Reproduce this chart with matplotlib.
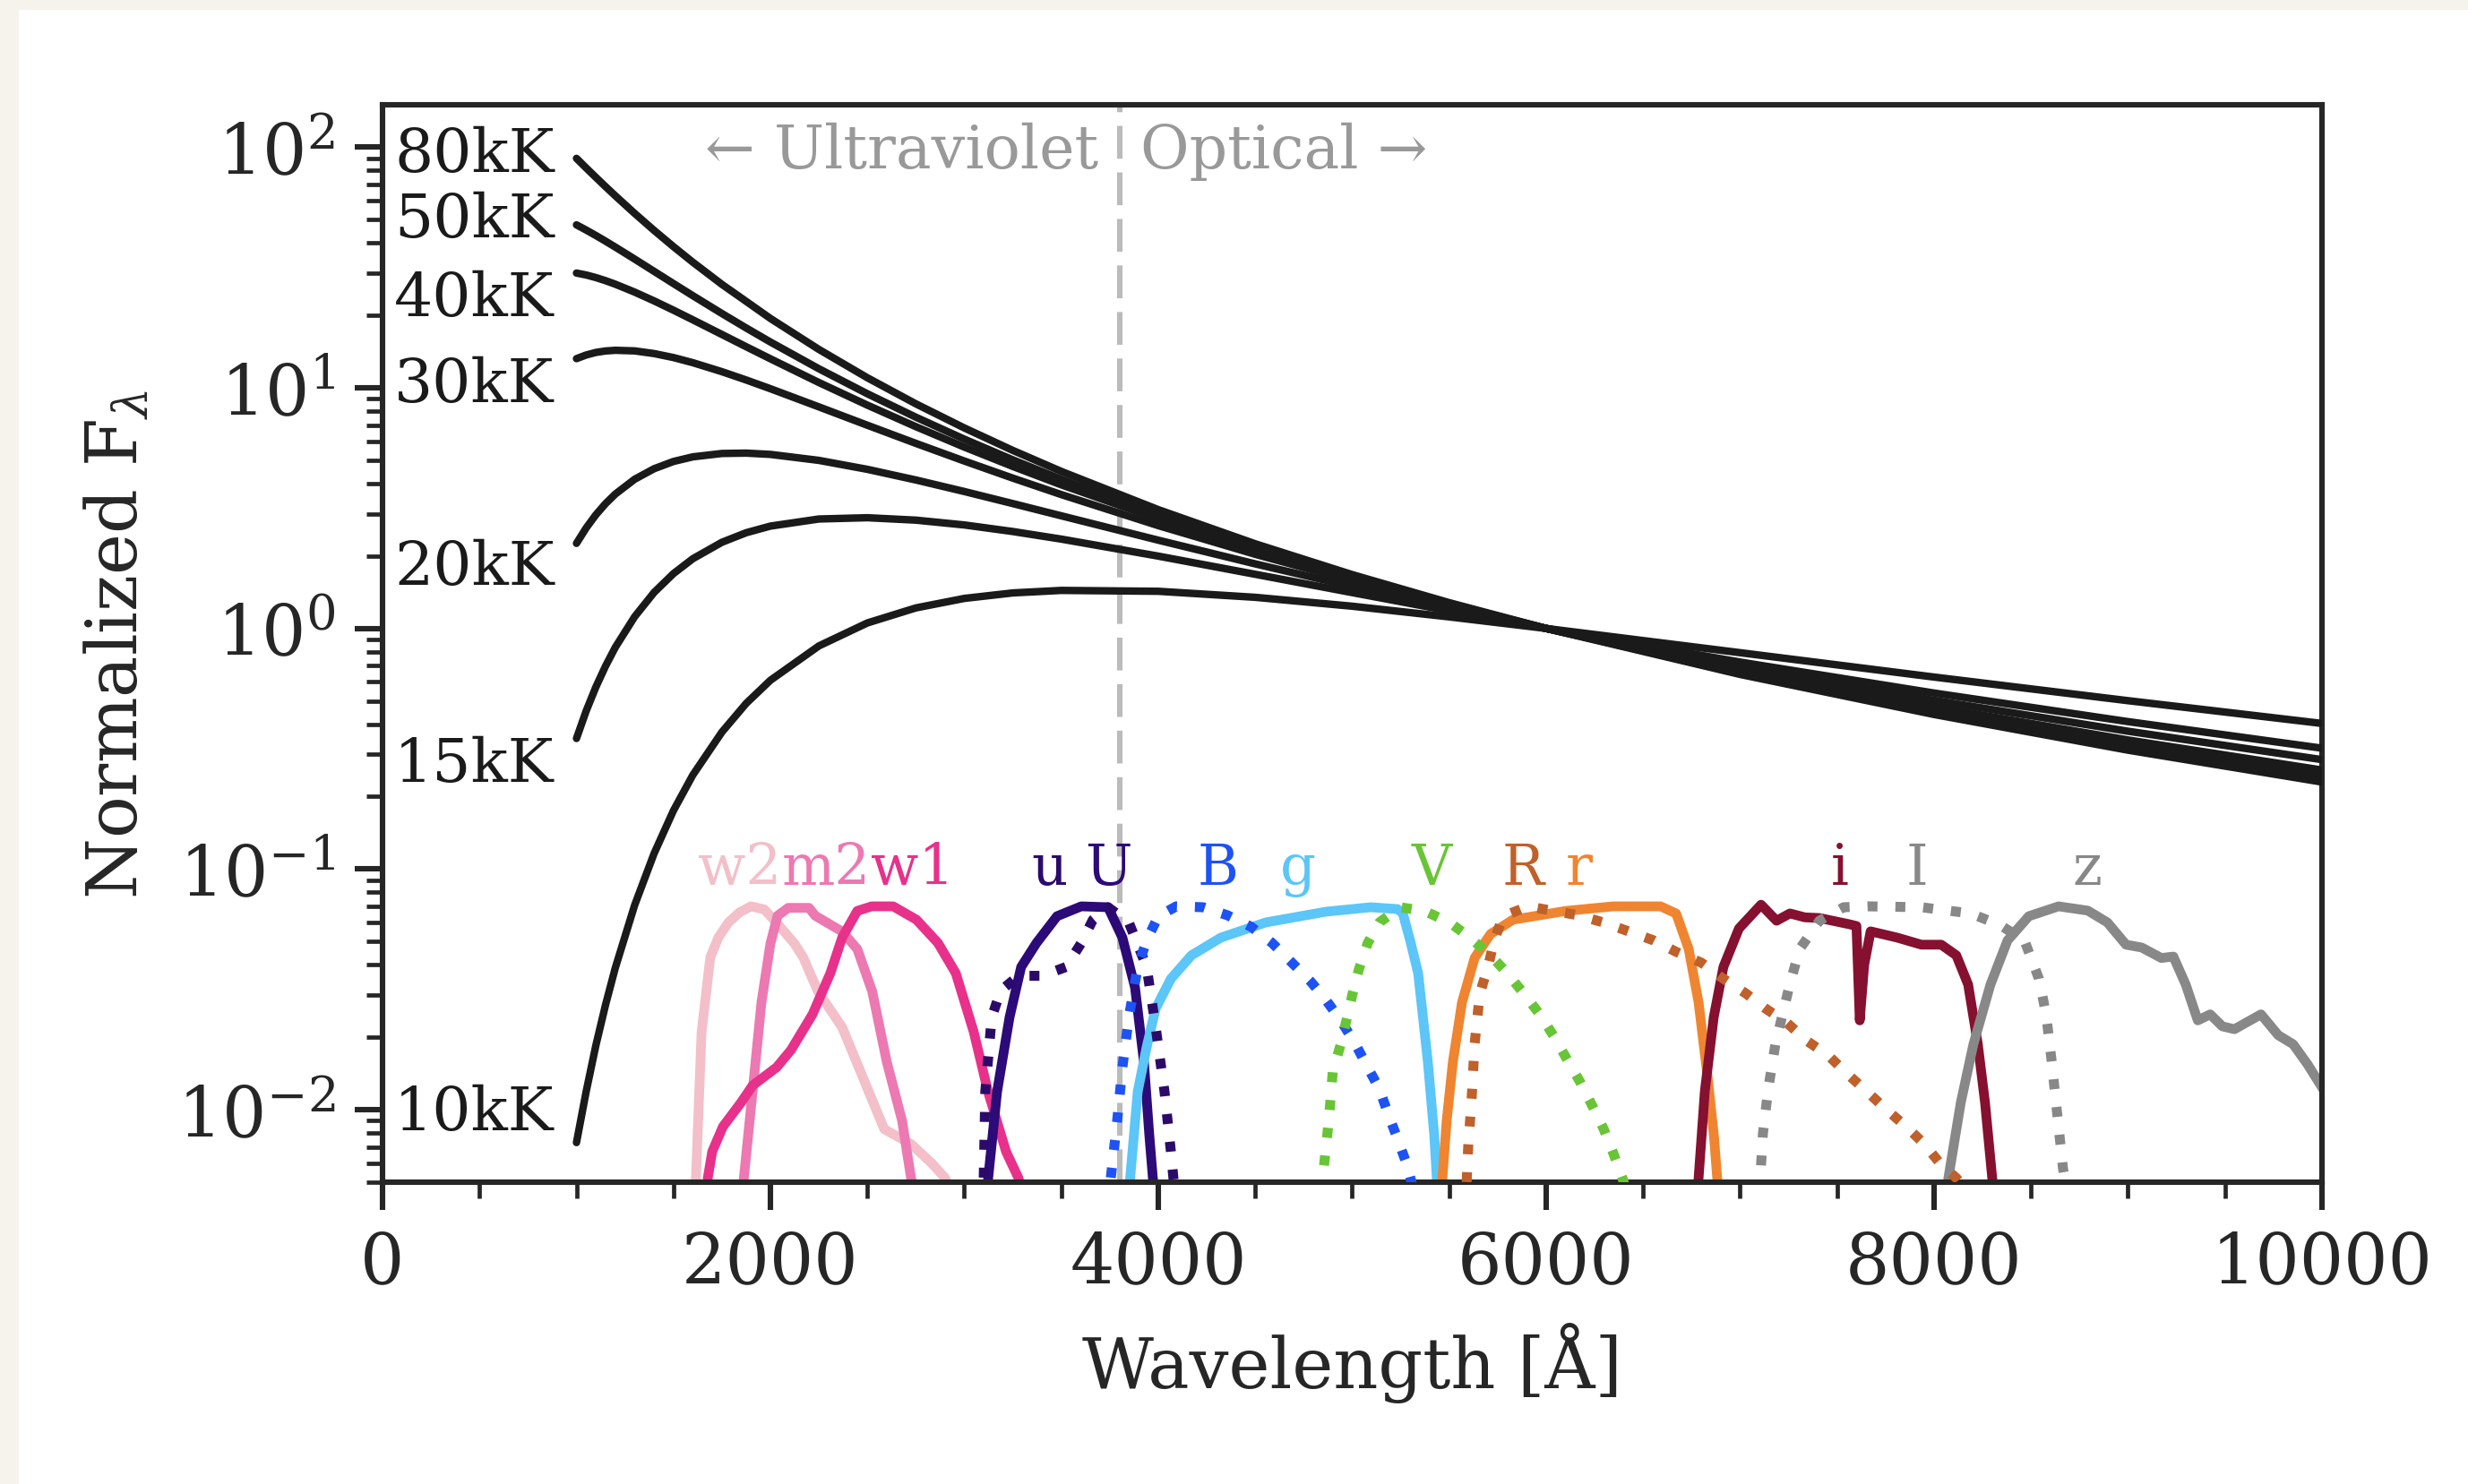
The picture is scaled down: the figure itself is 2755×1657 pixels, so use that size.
import numpy as np
import matplotlib.pyplot as plt
from matplotlib.patches import Rectangle
from matplotlib.ticker import MultipleLocator, NullFormatter

plt.rcParams['font.family'] = ['DejaVu Serif', 'DejaVu Sans']
plt.rcParams['mathtext.fontset'] = 'dejavuserif'

# --- blackbody curves (lambda*F_lambda, normalised at 6000 A) ---
wl = [1000, 1050, 1100, 1150, 1200, 1300, 1400, 1500, 1600, 1750, 1875, 2000, 2250, 2500,
      2750, 3000, 3250, 3500, 4000, 4500, 5000, 5500, 6000, 7000, 8000, 9000, 10000]
f_10k = [0.0073, 0.0119, 0.0185, 0.0273, 0.0388, 0.0708, 0.116, 0.175, 0.246, 0.371, 0.488,
         0.609, 0.846, 1.054, 1.217, 1.333, 1.405, 1.439, 1.427, 1.347, 1.237, 1.117, 1.0,
         0.793, 0.628, 0.501, 0.403]
f_15k = [0.349, 0.454, 0.571, 0.698, 0.834, 1.119, 1.411, 1.690, 1.949, 2.281, 2.499, 2.663,
         2.850, 2.885, 2.819, 2.692, 2.528, 2.351, 1.998, 1.679, 1.409, 1.184, 1.0, 0.725,
         0.539, 0.410, 0.318]
f_20k = [2.257, 2.616, 2.967, 3.302, 3.616, 4.169, 4.610, 4.942, 5.166, 5.335, 5.354, 5.288,
         4.994, 4.584, 4.140, 3.707, 3.303, 2.938, 2.327, 1.855, 1.494, 1.216, 1.0, 0.697,
         0.503, 0.374, 0.285]
f_30k = [13.22, 13.69, 14.03, 14.23, 14.32, 14.24, 13.88, 13.36, 12.72, 11.67, 10.78, 9.914,
         8.333, 6.990, 5.877, 4.963, 4.214, 3.600, 2.675, 2.033, 1.577, 1.246, 1.0, 0.672,
         0.472, 0.344, 0.258]
f_40k = [29.99, 29.44, 28.72, 27.88, 26.96, 24.99, 22.98, 21.02, 19.17, 16.66, 14.82, 13.20,
         10.52, 8.473, 6.896, 5.671, 4.712, 3.952, 2.852, 2.120, 1.617, 1.260, 1.0, 0.660,
         0.458, 0.330, 0.246]
f_50k = [47.56, 45.26, 42.96, 40.68, 38.46, 34.28, 30.49, 27.12, 24.15, 20.36, 17.73, 15.50,
         12.00, 9.447, 7.549, 6.118, 5.020, 4.167, 2.958, 2.172, 1.640, 1.268, 1.0, 0.653,
         0.450, 0.323, 0.239]
f_80k = [89.88, 81.99, 74.92, 68.56, 62.84, 53.07, 45.12, 38.62, 33.27, 26.91, 22.87, 19.42,
         14.44, 11.01, 8.579, 6.810, 5.493, 4.494, 3.117, 2.248, 1.674, 1.280, 1.0, 0.644,
         0.439, 0.312, 0.230]

temp_names = ['80kK', '50kK', '40kK', '30kK', '20kK', '15kK', '10kK']
temp_curves = [f_80k, f_50k, f_40k, f_30k, f_20k, f_15k, f_10k]
temp_label_y = [99, 53, 25, 11, 1.9, 0.29, 0.0103]

# --- filter curves (scaled so the peak is ~0.07) ---
w2_wl = [1600, 1615, 1645, 1690, 1732, 1784, 1840, 1900, 1968, 2031, 2124, 2169, 2245, 2370,
         2494, 2587, 2725, 2831, 2901, 2950]
w2_tr = [0.003, 0.005, 0.021, 0.043, 0.052, 0.060, 0.066, 0.070, 0.068, 0.060, 0.049, 0.043,
         0.031, 0.022, 0.0126, 0.0083, 0.0072, 0.0060, 0.0052, 0.004]
m2_wl = [1840, 1861, 1908, 1954, 2000, 2037, 2092, 2199, 2231, 2370, 2448, 2525, 2600, 2679,
         2725, 2760]
m2_tr = [0.003, 0.005, 0.0119, 0.028, 0.049, 0.064, 0.069, 0.069, 0.064, 0.055, 0.0465, 0.031,
         0.0158, 0.009, 0.0052, 0.004]
w1_wl = [1660, 1677, 1700, 1755, 1848, 1908, 2032, 2106, 2217, 2309, 2370, 2448, 2522, 2633,
         2753, 2864, 2956, 3048, 3122, 3215, 3279, 3310]
w1_tr = [0.0035, 0.0052, 0.0067, 0.0085, 0.0107, 0.0126, 0.0150, 0.0177, 0.0249, 0.0369, 0.0519,
         0.067, 0.070, 0.070, 0.0616, 0.0493, 0.0369, 0.0211, 0.0119, 0.0067, 0.0052, 0.004]
U_wl = [3110, 3123, 3169, 3233, 3293, 3372, 3478, 3603, 3741, 3815, 3880, 3926, 3954, 3972, 3985]
U_tr = [0.004, 0.0052, 0.0119, 0.0242, 0.0392, 0.0493, 0.0637, 0.070, 0.0694, 0.0519, 0.0322,
        0.0158, 0.0078, 0.0052, 0.004]
u_wl = [3090, 3100, 3108, 3141, 3187, 3279, 3400, 3525, 3603, 3663, 3741, 3848, 3940, 3986,
        4032, 4065, 4078, 4090]
u_tr = [0.004, 0.0052, 0.0119, 0.0242, 0.0312, 0.036, 0.036, 0.0392, 0.0493, 0.0616, 0.0694,
        0.060, 0.0392, 0.0222, 0.0119, 0.0067, 0.0052, 0.004]
B_wl = [3745, 3755, 3788, 3815, 3848, 3894, 3940, 4000, 4093, 4231, 4356, 4480, 4587, 4679,
        4787, 4864, 4941, 5017, 5080, 5140, 5187, 5233, 5279, 5300, 5320]
B_tr = [0.004, 0.0052, 0.009, 0.015, 0.0242, 0.0392, 0.0505, 0.0637, 0.070, 0.0694, 0.0643,
        0.0575, 0.0493, 0.0416, 0.034, 0.0286, 0.0235, 0.0187, 0.015, 0.0122, 0.0095, 0.0076,
        0.006, 0.0052, 0.0045]
g_wl = [3845, 3855, 3894, 3940, 3986, 4065, 4171, 4323, 4554, 4864, 5095, 5233, 5261, 5300,
        5340, 5390, 5423, 5436, 5445]
g_tr = [0.004, 0.0052, 0.0119, 0.0182, 0.0263, 0.035, 0.0438, 0.0519, 0.060, 0.0665, 0.0694,
        0.0682, 0.0654, 0.050, 0.0369, 0.0158, 0.0078, 0.0052, 0.004]
V_wl = [4840, 4850, 4879, 4900, 4941, 4970, 5002, 5034, 5080, 5140, 5247, 5372, 5502, 5607,
        5713, 5800, 5893, 5972, 6046, 6111, 6176, 6240, 6297, 6346, 6393, 6410]
V_tr = [0.0045, 0.0054, 0.009, 0.0145, 0.0187, 0.0235, 0.0304, 0.0382, 0.0493, 0.060, 0.0694,
        0.067, 0.060, 0.0519, 0.0438, 0.0369, 0.0298, 0.0246, 0.0198, 0.016, 0.013, 0.0103,
        0.0083, 0.0066, 0.0052, 0.0047]
r_wl = [5455, 5465, 5487, 5519, 5566, 5631, 5713, 5829, 6102, 6346, 6590, 6670, 6735, 6786,
        6832, 6865, 6882, 6895]
r_tr = [0.004, 0.0052, 0.009, 0.0158, 0.0279, 0.0427, 0.0537, 0.0616, 0.067, 0.070, 0.070,
        0.0654, 0.0465, 0.0279, 0.0138, 0.0078, 0.0052, 0.004]
R_wl = [5590, 5598, 5616, 5631, 5658, 5700, 5732, 5778, 5908, 6036, 6165, 6295, 6425, 6555,
        6670, 6801, 6905, 7030, 7132, 7243, 7345, 7455, 7552, 7654, 7755, 7857, 7950, 8037,
        8115, 8140]
R_tr = [0.005, 0.007, 0.0112, 0.0187, 0.0304, 0.0392, 0.0505, 0.0637, 0.070, 0.067, 0.0643,
        0.060, 0.0551, 0.0505, 0.0453, 0.0408, 0.0354, 0.0304, 0.0263, 0.0229, 0.0193, 0.0168,
        0.0141, 0.0119, 0.0100, 0.0085, 0.0072, 0.0059, 0.0052, 0.0049]
i_wl = [6775, 6786, 6818, 6864, 6914, 6994, 7108, 7188, 7257, 7334, 7410, 7562, 7600, 7617,
        7640, 7673, 7810, 7935, 8037, 8115, 8176, 8226, 8263, 8300, 8315]
i_tr = [0.004, 0.0052, 0.0119, 0.0242, 0.0392, 0.0566, 0.0711, 0.061, 0.0654, 0.063, 0.0626,
        0.059, 0.058, 0.0235, 0.040, 0.0551, 0.0519, 0.0485, 0.0485, 0.0438, 0.0331, 0.0187,
        0.0107, 0.0052, 0.004]
I_wl = [7095, 7104, 7118, 7145, 7182, 7219, 7256, 7307, 7409, 7534, 7658, 7935, 8189, 8341,
        8466, 8541, 8578, 8605, 8629, 8665, 8680]
I_tr = [0.0045, 0.0052, 0.008, 0.0122, 0.0187, 0.0249, 0.0331, 0.0465, 0.061, 0.0694, 0.070,
        0.0694, 0.0654, 0.0585, 0.0505, 0.035, 0.0249, 0.0163, 0.0107, 0.0057, 0.0048]
z_wl = [8060, 8074, 8138, 8203, 8291, 8379, 8489, 8642, 8793, 8894, 8990, 9071, 9172, 9234,
        9298, 9360, 9424, 9487, 9549, 9686, 9775, 9852, 9927, 10000]
z_tr = [0.004, 0.0052, 0.0107, 0.0187, 0.0331, 0.0505, 0.0637, 0.070, 0.0672, 0.060, 0.0485,
        0.0472, 0.0427, 0.0433, 0.0331, 0.0235, 0.0249, 0.0222, 0.0216, 0.0249, 0.0204, 0.0187,
        0.0154, 0.0124]

# name, wavelengths, throughput, colour, dotted?, label x
filters = [
    ('w2', w2_wl, w2_tr, '#f3bfc9', False, 1842),
    ('m2', m2_wl, m2_tr, '#ec79b1', False, 2289),
    ('w1', w1_wl, w1_tr, '#e8318b', False, 2735),
    ('U', U_wl, U_tr, '#2c0a78', False, 3745),
    ('g', g_wl, g_tr, '#5bc6f7', False, 4718),
    ('r', r_wl, r_tr, '#ef8530', False, 6171),
    ('i', i_wl, i_tr, '#851030', False, 7515),
    ('z', z_wl, z_tr, '#888888', False, 8792),
    ('u', u_wl, u_tr, '#2c0a6a', True, 3440),
    ('B', B_wl, B_tr, '#1d52f5', True, 4309),
    ('V', V_wl, V_tr, '#68c536', True, 5411),
    ('R', R_wl, R_tr, '#c0602a', True, 5882),
    ('I', I_wl, I_tr, '#888888', True, 7912),
]

# --- figure ---
fig = plt.figure(figsize=(13.775, 8.29), dpi=200)
fig.patch.set_facecolor('#f6f3ec')
card = Rectangle((21 / 2755, 0), 1, 1 - 12 / 1658, transform=fig.transFigure,
                 facecolor='white', edgecolor='none', zorder=-10)
fig.patches.append(card)
ax = fig.add_axes([0.155, 0.2033, 0.7858, 0.7255])
ax.set_zorder(5)
ax.set_facecolor('white')

for name, curve, ly in zip(temp_names, temp_curves, temp_label_y):
    ax.plot(wl, curve, color='#1a1a1a', lw=3.0, solid_capstyle='round',
            solid_joinstyle='round', zorder=3)
    ax.text(60, ly, name, fontsize=24.5, color='#1a1a1a', ha='left', va='center_baseline')

for name, fw, ft, col, dotted, lx in filters:
    if dotted:
        ax.plot(fw, ft, color=col, lw=4.0, linestyle=(0, (1, 1.8)), zorder=4)
    else:
        ax.plot(fw, ft, color=col, lw=3.9, solid_joinstyle='round', zorder=2)
    ax.text(lx, 0.087, name, color=col, fontsize=22.5, ha='center', va='baseline')

ax.axvline(3800, color='#bbbbbb', lw=2.2, linestyle=(0, (6, 2.5)), zorder=1)
ax.text(3690, 97, '\u2190 Ultraviolet', color='#999999', fontsize=24, ha='right', va='center')
ax.text(3910, 97, 'Optical \u2192', color='#999999', fontsize=24, ha='left', va='center')

ax.set_yscale('log')
ax.set_xlim(0, 10000)
ax.set_ylim(0.005, 150)
ax.xaxis.set_major_locator(MultipleLocator(2000))
ax.xaxis.set_minor_locator(MultipleLocator(500))
ax.yaxis.set_minor_formatter(NullFormatter())

for s in ax.spines.values():
    s.set_linewidth(2.2)
    s.set_color('#262626')
ax.tick_params(which='major', length=11, width=2.2, direction='out', pad=8,
               labelsize=28, colors='#262626', top=False, right=False)
ax.tick_params(which='minor', length=6.5, width=1.7, direction='out',
               colors='#262626', top=False, right=False)

ax.set_xlabel('Wavelength [\u00c5]', fontsize=28, color='#262626', labelpad=10)
ax.set_ylabel('Normalized F$_\\lambda$', fontsize=28, color='#262626', labelpad=10)

fig.savefig('out.png', dpi=200, facecolor=fig.get_facecolor())
